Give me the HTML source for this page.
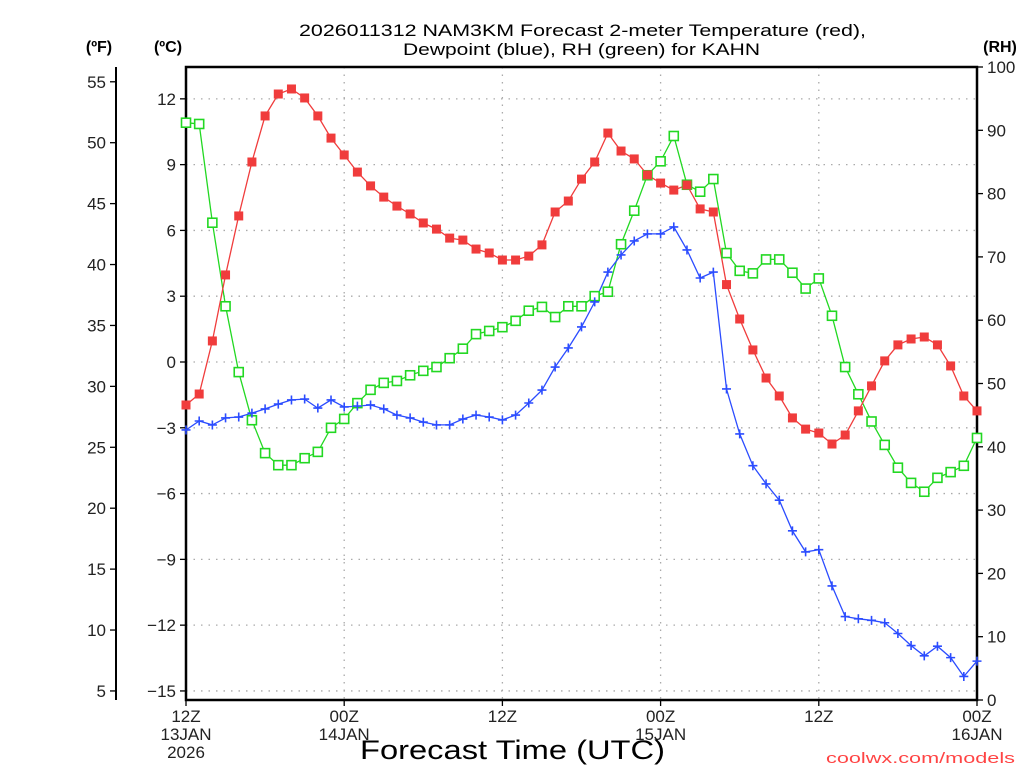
<!DOCTYPE html>
<html><head><meta charset="utf-8"><style>
html,body{margin:0;padding:0;background:#fff;}
svg{display:block;font-family:"Liberation Sans",sans-serif;}
</style></head><body>
<svg id="chart" width="1024" height="768" viewBox="0 0 1024 768">
<g id="grid"></g>
<g id="axes"></g>
<g id="series"></g>
<text x="299" y="36" font-size="17" textLength="567" lengthAdjust="spacingAndGlyphs">2026011312 NAM3KM Forecast 2-meter Temperature (red),</text>
<text x="403" y="55" font-size="17" textLength="357" lengthAdjust="spacingAndGlyphs">Dewpoint (blue), RH (green) for KAHN</text>
<text x="99" y="52" font-size="16" font-weight="bold" text-anchor="middle">(ºF)</text>
<text x="168" y="52" font-size="16" font-weight="bold" text-anchor="middle">(ºC)</text>
<text x="1000" y="52" font-size="16" font-weight="bold" text-anchor="middle">(RH)</text>
<text x="360" y="759" font-size="27" textLength="305" lengthAdjust="spacingAndGlyphs">Forecast Time (UTC)</text>
<text x="826" y="763" font-size="15" fill="#ff4444" textLength="189" lengthAdjust="spacingAndGlyphs">coolwx.com/models</text>
</svg>
<script>
const hours = [];
for (let i = 0; i <= 60; i++) hours.push(i);
const tempC = [-1.96,-1.46,0.96,3.97,6.66,9.12,11.22,12.22,12.45,12.04,11.22,10.21,9.44,8.66,8.03,7.52,7.11,6.75,6.34,6.06,5.65,5.56,5.15,4.97,4.65,4.65,4.83,5.34,6.84,7.34,8.34,9.12,10.44,9.62,9.26,8.53,8.16,7.84,8.07,6.98,6.84,3.53,1.96,0.55,-0.73,-1.55,-2.55,-3.06,-3.24,-3.74,-3.33,-2.23,-1.09,0.05,0.78,1.05,1.14,0.78,-0.18,-1.55,-2.23];
const dewC = [-3.10,-2.69,-2.87,-2.55,-2.51,-2.33,-2.14,-1.92,-1.73,-1.69,-2.10,-1.73,-2.05,-2.01,-1.96,-2.14,-2.42,-2.55,-2.74,-2.87,-2.87,-2.60,-2.42,-2.51,-2.64,-2.42,-1.87,-1.28,-0.23,0.64,1.60,2.74,4.10,4.88,5.52,5.84,5.84,6.16,5.11,3.83,4.10,-1.23,-3.28,-4.73,-5.56,-6.30,-7.70,-8.66,-8.56,-10.21,-11.61,-11.71,-11.78,-11.89,-12.38,-12.93,-13.40,-12.96,-13.48,-14.34,-13.64];
const rh = [91.2,91.0,75.4,62.2,51.8,44.2,39.0,37.1,37.1,38.2,39.2,43.0,44.4,46.9,49.0,50.1,50.4,51.3,52.0,52.6,54.0,55.5,57.8,58.3,58.9,59.9,61.5,62.1,60.5,62.2,62.2,63.8,64.5,72.0,77.3,82.9,85.1,89.1,81.4,80.3,82.3,70.6,67.8,67.4,69.6,69.6,67.5,65.0,66.6,60.7,52.6,48.3,44.0,40.3,36.7,34.3,32.9,35.1,36.0,37.0,41.4];
const cTicks = [12,9,6,3,0,-3,-6,-9,-12,-15];
const fTicks = [55,50,45,40,35,30,25,20,15,10,5];
const rhTicks = [100,90,80,70,60,50,40,30,20,10,0];
const xTickHours = [0,12,24,36,48,60];
const xTickLabels = [["12Z","13JAN","2026"],["00Z","14JAN"],["12Z"],["00Z","15JAN"],["12Z"],["00Z","16JAN"]];

const L=186,R=977,T=67,B=700;
const xs = h => L + (R-L)*h/60;
const yC = c => 362 - c*21.93;
const yF = f => yC((f-32)/1.8);
const yRH = r => B - (B-T)*r/100;
const NS="http://www.w3.org/2000/svg";
function mk(tag, attrs, parent, txt){const e=document.createElementNS(NS,tag);for(const k in attrs)e.setAttribute(k,attrs[k]);if(txt!==undefined)e.textContent=txt;parent.appendChild(e);return e;}
const grid=document.getElementById('grid'), axes=document.getElementById('axes'), ser=document.getElementById('series');

cTicks.forEach(c=>{
  const y=yC(c);
  const g=mk('line',{x1:L,x2:R,y1:y,y2:y,stroke:'#aaa','stroke-width':1.3,'stroke-dasharray':'1.5 6'},grid);
  
  
  const t=mk('line',{x1:L-6,x2:L,y1:y,y2:y,stroke:'#000','stroke-width':1.3},axes);
  
  
  const lb=mk('text',{x:L-10,y:y+6,'font-size':17,'text-anchor':'end',fill:'#222'},axes,(c<0?'\u2212':'')+Math.abs(c));
  
  
});
[12,24,36,48].forEach(h=>{
  const x=xs(h);
  const g=mk('line',{x1:x,x2:x,y1:T,y2:B,stroke:'#aaa','stroke-width':1.3,'stroke-dasharray':'1.5 6'},grid);
  
  
});
fTicks.forEach(f=>{
  const y=yF(f);
  const t=mk('line',{x1:110,x2:116,y1:y,y2:y,stroke:'#000','stroke-width':1.3},axes);
  
  
  const lb=mk('text',{x:106,y:y+6,'font-size':17,'text-anchor':'end',fill:'#222'},axes,String(f));
  
  
});
rhTicks.forEach(r=>{
  const y=yRH(r);
  const t=mk('line',{x1:R,x2:R+6,y1:y,y2:y,stroke:'#000','stroke-width':1.3},axes);
  
  
  const lb=mk('text',{x:R+10,y:y+6,'font-size':17,'text-anchor':'start',fill:'#222'},axes,String(r));
  
  
});
xTickHours.forEach((h,i)=>{
  const x=xs(h);
  const t=mk('line',{x1:x,x2:x,y1:B,y2:B+6,stroke:'#000','stroke-width':1.3},axes);
  
  
  xTickLabels[i].forEach((s,j)=>{
    const lb=mk('text',{x:x,y:722+j*18,'font-size':17,'text-anchor':'middle',fill:'#222'},axes,s);
    
    
  });
});
const fa=mk('line',{x1:116,x2:116,y1:T,y2:B,stroke:'#000','stroke-width':2},axes);


const box=mk('rect',{x:L,y:T,width:R-L,height:B-T,fill:'none',stroke:'#000','stroke-width':2.5},axes);



function series(vals, yfn, color, name){
  const pts=vals.map((v,i)=>xs(hours[i]).toFixed(1)+','+yfn(v).toFixed(1)).join(' ');
  const pl=mk('polyline',{points:pts,fill:'none',stroke:color,'stroke-width':1.3},ser);
  
  
}
series(rh,yRH,'#22d822','rh');
series(dewC,yC,'#2b4cff','dewpoint');
series(tempC,yC,'#f03c3c','temperature');
rh.forEach((v,i)=>{
  const m=mk('rect',{x:xs(hours[i])-4.5,y:yRH(v)-4.5,width:9,height:9,fill:'#fff',stroke:'#22d822','stroke-width':1.6},ser);
  
  
});
dewC.forEach((v,i)=>{
  const x=xs(hours[i]),y=yC(v);
  const m=mk('path',{d:`M${x-4.5},${y}H${x+4.5}M${x},${y-4.5}V${y+4.5}`,stroke:'#2b4cff','stroke-width':1.6,fill:'none'},ser);
  
  
});
tempC.forEach((v,i)=>{
  const m=mk('rect',{x:xs(hours[i])-4.5,y:yC(v)-4.5,width:9,height:9,fill:'#f03c3c'},ser);
  
  
});
</script>
</body></html>
